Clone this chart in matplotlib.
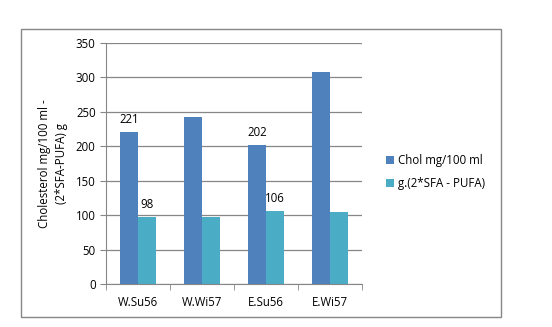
import matplotlib.pyplot as plt
import numpy as np
from matplotlib.patches import Rectangle

categories = ["W.Su56", "W.Wi57", "E.Su56", "E.Wi57"]
chol = [221, 243, 202, 308]
sfa_pufa = [98, 97, 106, 105]
chol_labels = ["221", "", "202", ""]
sfa_labels = ["98", "", "106", ""]
series_names = ["Chol mg/100 ml", "g.(2*SFA - PUFA)"]

W, H = 552, 327
fs = 8.3
fig = plt.figure(figsize=(W / 100, H / 100), dpi=100)
plt.rcParams['font.family'] = ['Open Sans', 'DejaVu Sans']

# outer chart border
fig.patches.append(Rectangle((21 / W, 1 - 317 / H), 480 / W, 288 / H, transform=fig.transFigure,
                             fill=False, edgecolor="#868686", linewidth=1))

ax = fig.add_axes([106 / W, 1 - 284 / H, 256 / W, 241 / H])
x = np.arange(len(categories))
bw = 0.28
b1 = ax.bar(x - bw / 2, chol, bw, color="#4F81BD", label=series_names[0])
b2 = ax.bar(x + bw / 2, sfa_pufa, bw, color="#4BACC6", label=series_names[1])

for bars, labels in [(b1, chol_labels), (b2, sfa_labels)]:
    for rect, lab in zip(bars, labels):
        if lab:
            ax.annotate(lab, (rect.get_x() + rect.get_width() / 2, rect.get_height()),
                        xytext=(0, 4), textcoords="offset points", ha="center", va="bottom", fontsize=fs)

ax.set_xlim(-0.5, len(categories) - 0.5)
ax.set_ylim(0, 350)
ax.set_yticks(range(0, 351, 50))
ax.yaxis.grid(True, color="#868686", linewidth=0.9)
ax.set_axisbelow(True)
ax.set_xticks(x)
ax.set_xticklabels(categories, fontsize=fs)
ax.set_xticks(np.arange(-0.5, len(categories), 1), minor=True)
ax.tick_params(axis="x", which="major", length=0, pad=9)
ax.tick_params(axis="x", which="minor", length=4, color="#868686", direction="out")
ax.tick_params(axis="y", length=4, color="#868686", labelsize=fs)
for s in ["top", "right"]:
    ax.spines[s].set_visible(False)
ax.spines["left"].set_color("#868686")
ax.spines["bottom"].set_color("#868686")

ax.set_ylabel("Cholesterol mg/100 ml -\n(2*SFA-PUFA) g", fontsize=fs, linespacing=1.4)
ax.yaxis.set_label_coords(-0.15, 0.5)

fig.legend(loc="center left", bbox_to_anchor=(376 / W, 1 - 172 / H), frameon=False, fontsize=fs,
           handlelength=0.7, handleheight=0.7, handletextpad=0.3, labelspacing=0.9)

fig.savefig("out.png", dpi=100)
